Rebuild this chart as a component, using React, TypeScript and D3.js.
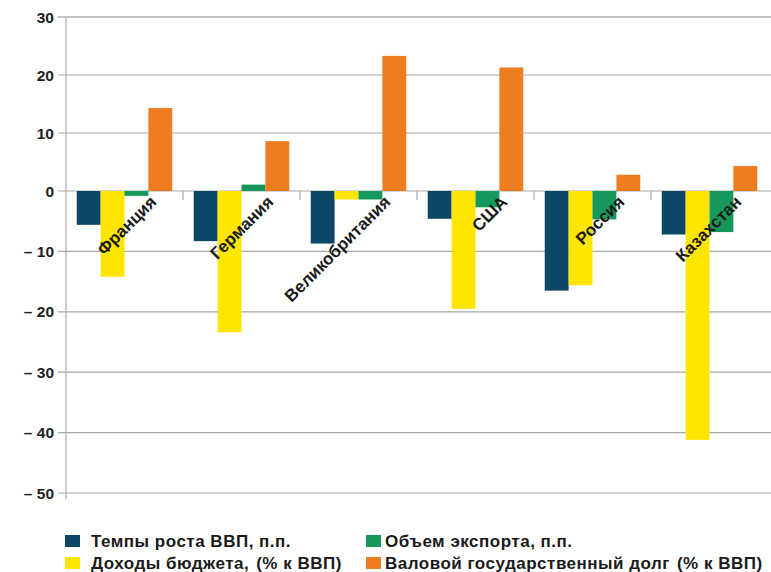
import React from "react";
import * as d3 from "d3";

const categories = ["Франция", "Германия", "Великобритания", "США", "Россия", "Казахстан"];
const seriesNames = [
  "Темпы роста ВВП, п.п.",
  "Доходы бюджета, (% к ВВП)",
  "Объем экспорта, п.п.",
  "Валовой государственный долг (% к ВВП)",
];
const seriesColors = ["#0d4766", "#ffe600", "#15985a", "#ee7d22"];
const gdpGrowth = [-5.6, -8.3, -8.7, -4.6, -16.5, -7.2];
const budgetRevenue = [-14.2, -23.4, -1.4, -19.5, -15.6, -41.2];
const exportVolume = [-0.8, 1.1, -1.4, -2.7, -4.7, -6.8];
const publicDebt = [14.3, 8.6, 23.3, 21.3, 2.8, 4.3];
const yTicks = [30, 20, 10, 0, -10, -20, -30, -40, -50];

const seriesValues = [gdpGrowth, budgetRevenue, exportVolume, publicDebt];

const W = 771;
const H = 572;
const left = 66;
const right = 768;

export default function App() {
  const x = d3.scaleBand<string>().domain(categories).range([left, right]).padding(0);
  const xs = d3
    .scaleBand<number>()
    .domain(d3.range(4))
    .range([0, x.bandwidth()])
    .paddingInner(0)
    .paddingOuter(0.45);
  const y = d3.scaleLinear().domain([-50, 0, 30]).range([493, 191, 17]);

  const fmt = (v: number) => (v < 0 ? "– " + Math.abs(v) : String(v));
  const font = "'Liberation Sans', Arial, sans-serif";

  const legendLayout = [
    { si: 0, lx: 65, tx: 91, ly: 541 },
    { si: 2, lx: 366, tx: 385, ly: 541 },
    { si: 1, lx: 65, tx: 91, ly: 563 },
    { si: 3, lx: 366, tx: 385, ly: 563 },
  ];

  return (
    <svg
      width={W}
      height={H}
      style={{ position: "absolute", left: 0, top: 0, background: "#fff" }}
      fontFamily={font}
    >
      {yTicks.map((t) => (
        <line
          key={"g" + t}
          x1={left - 8}
          x2={W}
          y1={y(t)}
          y2={y(t)}
          stroke={t === 30 ? "#c4c4c4" : "#a9a9a9"}
          strokeWidth={t === 30 ? 2 : 1.2}
        />
      ))}
      <line x1={left} x2={left} y1={y(30)} y2={y(-50) + 6} stroke="#a9a9a9" strokeWidth={1.2} />
      {yTicks.map((t) => (
        <text
          key={"t" + t}
          x={54}
          y={y(t)}
          dy="0.36em"
          textAnchor="end"
          fontSize={15.5}
          fontWeight="bold"
          fill="#222"
        >
          {fmt(t)}
        </text>
      ))}
      {categories.slice(1).map((c) => (
        <line
          key={"ct" + c}
          x1={x(c)!}
          x2={x(c)!}
          y1={y(0)}
          y2={y(0) + 9}
          stroke="#a9a9a9"
          strokeWidth={1.2}
        />
      ))}
      {seriesValues.map((vals, si) =>
        vals.map((v, ci) => {
          const bx = x(categories[ci])! + xs(si)!;
          const y0 = y(0);
          const y1 = y(v);
          return (
            <rect
              key={si + "-" + ci}
              x={bx}
              y={Math.min(y0, y1)}
              width={xs.bandwidth()}
              height={Math.abs(y1 - y0)}
              fill={seriesColors[si]}
            />
          );
        })
      )}
      {categories.map((c) => {
        const cx = x(c)! + x.bandwidth() / 2 + 33;
        const cy = 203;
        return (
          <text
            key={"cl" + c}
            x={cx}
            y={cy}
            textAnchor="end"
            transform={`rotate(-45, ${cx}, ${cy})`}
            fontSize={17}
            fontWeight="bold"
            fill="#1a1a1a"
          >
            {c}
          </text>
        );
      })}
      {legendLayout.map(({ si, lx, tx, ly }) => {
        const name = seriesNames[si];
        const k = name.indexOf(" (");
        const main = k >= 0 ? name.slice(0, k) : name;
        const paren = k >= 0 ? name.slice(k + 1) : "";
        return (
          <g key={"lg" + si}>
            <rect x={lx} y={ly - 6} width={15} height={12} fill={seriesColors[si]} />
            <text
              x={tx}
              y={ly}
              dy="0.36em"
              fontSize={17}
              fontWeight="bold"
              letterSpacing={0.5}
              fill="#1a1a1a"
            >
              {main}
              {paren && <tspan dx={7}>{paren}</tspan>}
            </text>
          </g>
        );
      })}
    </svg>
  );
}
